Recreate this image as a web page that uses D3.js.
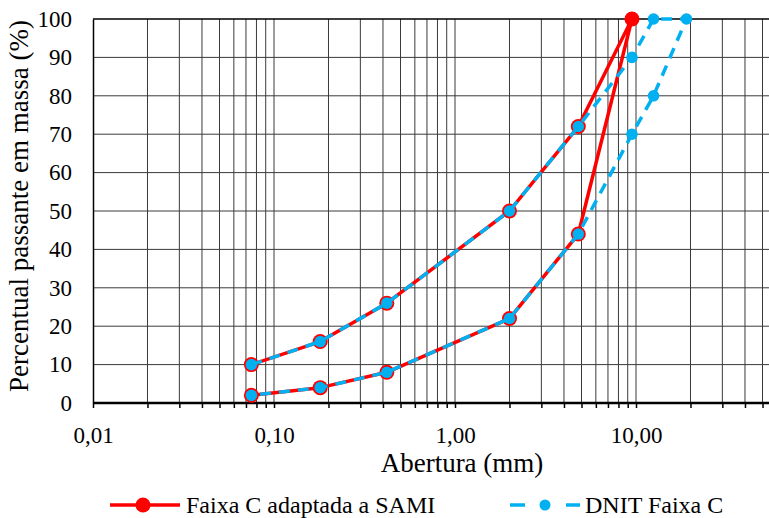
<!DOCTYPE html>
<html>
<head>
<meta charset="utf-8">
<script src="https://cdn.jsdelivr.net/npm/d3@7"></script>
<style>
  html, body { margin: 0; padding: 0; background: #fff; }
  svg { display: block; }
</style>
</head>
<body>
<svg id="chart" width="769" height="518"></svg>
<script>
// ---- data ----
const xTickValues = [0.01, 0.1, 1, 10];
const xTickLabels = ["0,01", "0,10", "1,00", "10,00"];
const yTickValues = [0, 10, 20, 30, 40, 50, 60, 70, 80, 90, 100];

// Faixa C adaptada a SAMI (upper limit ascending, then lower limit descending)
const samiX = [0.075, 0.18, 0.42, 2.0, 4.8, 9.5, 4.8, 2.0, 0.42, 0.18, 0.075];
const samiY = [10, 16, 26, 50, 72, 100, 44, 22, 8, 4, 2];

// DNIT Faixa C
const dnitX = [0.075, 0.18, 0.42, 2.0, 4.8, 9.5, 12.5, 19.0, 12.5, 9.5, 4.8, 2.0, 0.42, 0.18, 0.075];
const dnitY = [10, 16, 26, 50, 72, 90, 100, 100, 80, 70, 44, 22, 8, 4, 2];

const seriesNames = ["Faixa C adaptada a SAMI", "DNIT Faixa C"];

// ---- layout ----
const FONT = "Liberation Serif";
const svg = d3.select("#chart");
const L = 93, T = 19, B = 403, Rfull = 817, W = 769;
const x = d3.scaleLog().domain([0.01, 100]).range([L, Rfull]);
const y = d3.scaleLinear().domain([0, 100]).range([B, T]);

svg.append("rect").attr("width", 769).attr("height", 518).attr("fill", "#fff");

const gridX = [];
[0.01, 0.1, 1, 10].forEach(d => { for (let k = 1; k <= 9; k++) gridX.push(d * k); });
const visGridX = gridX.filter(v => v > 0.01 && x(v) < W);

svg.append("g").selectAll("line").data(visGridX).join("line")
  .attr("x1", d => x(d)).attr("x2", d => x(d))
  .attr("y1", T).attr("y2", B)
  .attr("stroke", "#3a3a3a").attr("stroke-width", 1);

svg.append("g").selectAll("line").data(yTickValues.filter(v => v > 0 && v < 100)).join("line")
  .attr("x1", L).attr("x2", W)
  .attr("y1", d => y(d)).attr("y2", d => y(d))
  .attr("stroke", "#3a3a3a").attr("stroke-width", 1);

svg.append("line").attr("x1", L).attr("x2", W).attr("y1", T).attr("y2", T)
  .attr("stroke", "#000").attr("stroke-width", 1.5);

// x axis
const xAxis = d3.axisBottom(x)
  .tickValues([0.01].concat(visGridX))
  .tickFormat(d => { const i = xTickValues.findIndex(v => Math.abs(v - d) < 1e-9); return i >= 0 ? xTickLabels[i] : ""; })
  .tickSize(5).tickPadding(18.5).tickSizeOuter(0);
const gx = svg.append("g").attr("transform", `translate(0,${B})`).call(xAxis)
  .attr("font-family", FONT).attr("font-size", 23);
gx.select(".domain").attr("d", `M${L},0H${W}`).attr("stroke", "#000").attr("stroke-width", 2.5);
gx.selectAll(".tick line").attr("stroke", "#000").attr("stroke-width", 1.5);
gx.selectAll(".tick text").style("font-size", "23px").style("font-family", FONT).attr("fill", "#000");

// y axis
const yAxis = d3.axisLeft(y).tickValues(yTickValues).tickSize(0).tickPadding(21).tickSizeOuter(0);
const gy = svg.append("g").attr("transform", `translate(${L},0)`).call(yAxis)
  .attr("font-family", FONT).attr("font-size", 23);
gy.select(".domain").attr("stroke", "#000").attr("stroke-width", 1.5);
gy.selectAll(".tick text").style("font-size", "23px").style("font-family", FONT).attr("fill", "#000");

// axis titles
svg.append("text").attr("x", 462).attr("y", 472).attr("text-anchor", "middle")
  .style("font-size", "27px").style("font-family", FONT).text("Abertura (mm)");
svg.append("text").attr("transform", "translate(28,206) rotate(-90)").attr("text-anchor", "middle")
  .style("font-size", "27px").style("font-family", FONT).text("Percentual passante em massa (%)");

// series
const red = "#FF0000", blue = "#00B0F0";
const line = d3.line().x(d => x(d[0])).y(d => y(d[1]));
const sami = samiX.map((v, i) => [v, samiY[i]]);
const dnit = dnitX.map((v, i) => [v, dnitY[i]]);

const plot = svg.append("g");
plot.append("path").datum(sami).attr("d", line).attr("fill", "none")
  .attr("stroke", red).attr("stroke-width", 3.5).attr("stroke-linejoin", "round");
plot.append("g").selectAll("circle").data(sami).join("circle")
  .attr("cx", d => x(d[0])).attr("cy", d => y(d[1])).attr("r", 7.5).attr("fill", red);

plot.append("path").datum(dnit).attr("d", line).attr("fill", "none")
  .attr("stroke", blue).attr("stroke-width", 3.5).attr("stroke-dasharray", "11,8");
plot.append("g").selectAll("circle").data(dnit).join("circle")
  .attr("cx", d => x(d[0])).attr("cy", d => y(d[1])).attr("r", 5.8).attr("fill", blue);

// legend
const lg = svg.append("g");
lg.append("line").attr("x1", 110).attr("x2", 180).attr("y1", 505).attr("y2", 505)
  .attr("stroke", red).attr("stroke-width", 3.5);
lg.append("circle").attr("cx", 143).attr("cy", 505).attr("r", 7.5).attr("fill", red);
lg.append("text").attr("x", 186).attr("y", 513).style("font-size", "24px").style("font-family", FONT).text(seriesNames[0]);

lg.append("line").attr("x1", 510).attr("x2", 525).attr("y1", 505).attr("y2", 505)
  .attr("stroke", blue).attr("stroke-width", 3.5);
lg.append("line").attr("x1", 566).attr("x2", 580).attr("y1", 505).attr("y2", 505)
  .attr("stroke", blue).attr("stroke-width", 3.5);
lg.append("circle").attr("cx", 545).attr("cy", 505).attr("r", 5.5).attr("fill", blue);
lg.append("text").attr("x", 585).attr("y", 513).style("font-size", "24px").style("font-family", FONT).text(seriesNames[1]);
</script>
</body>
</html>
